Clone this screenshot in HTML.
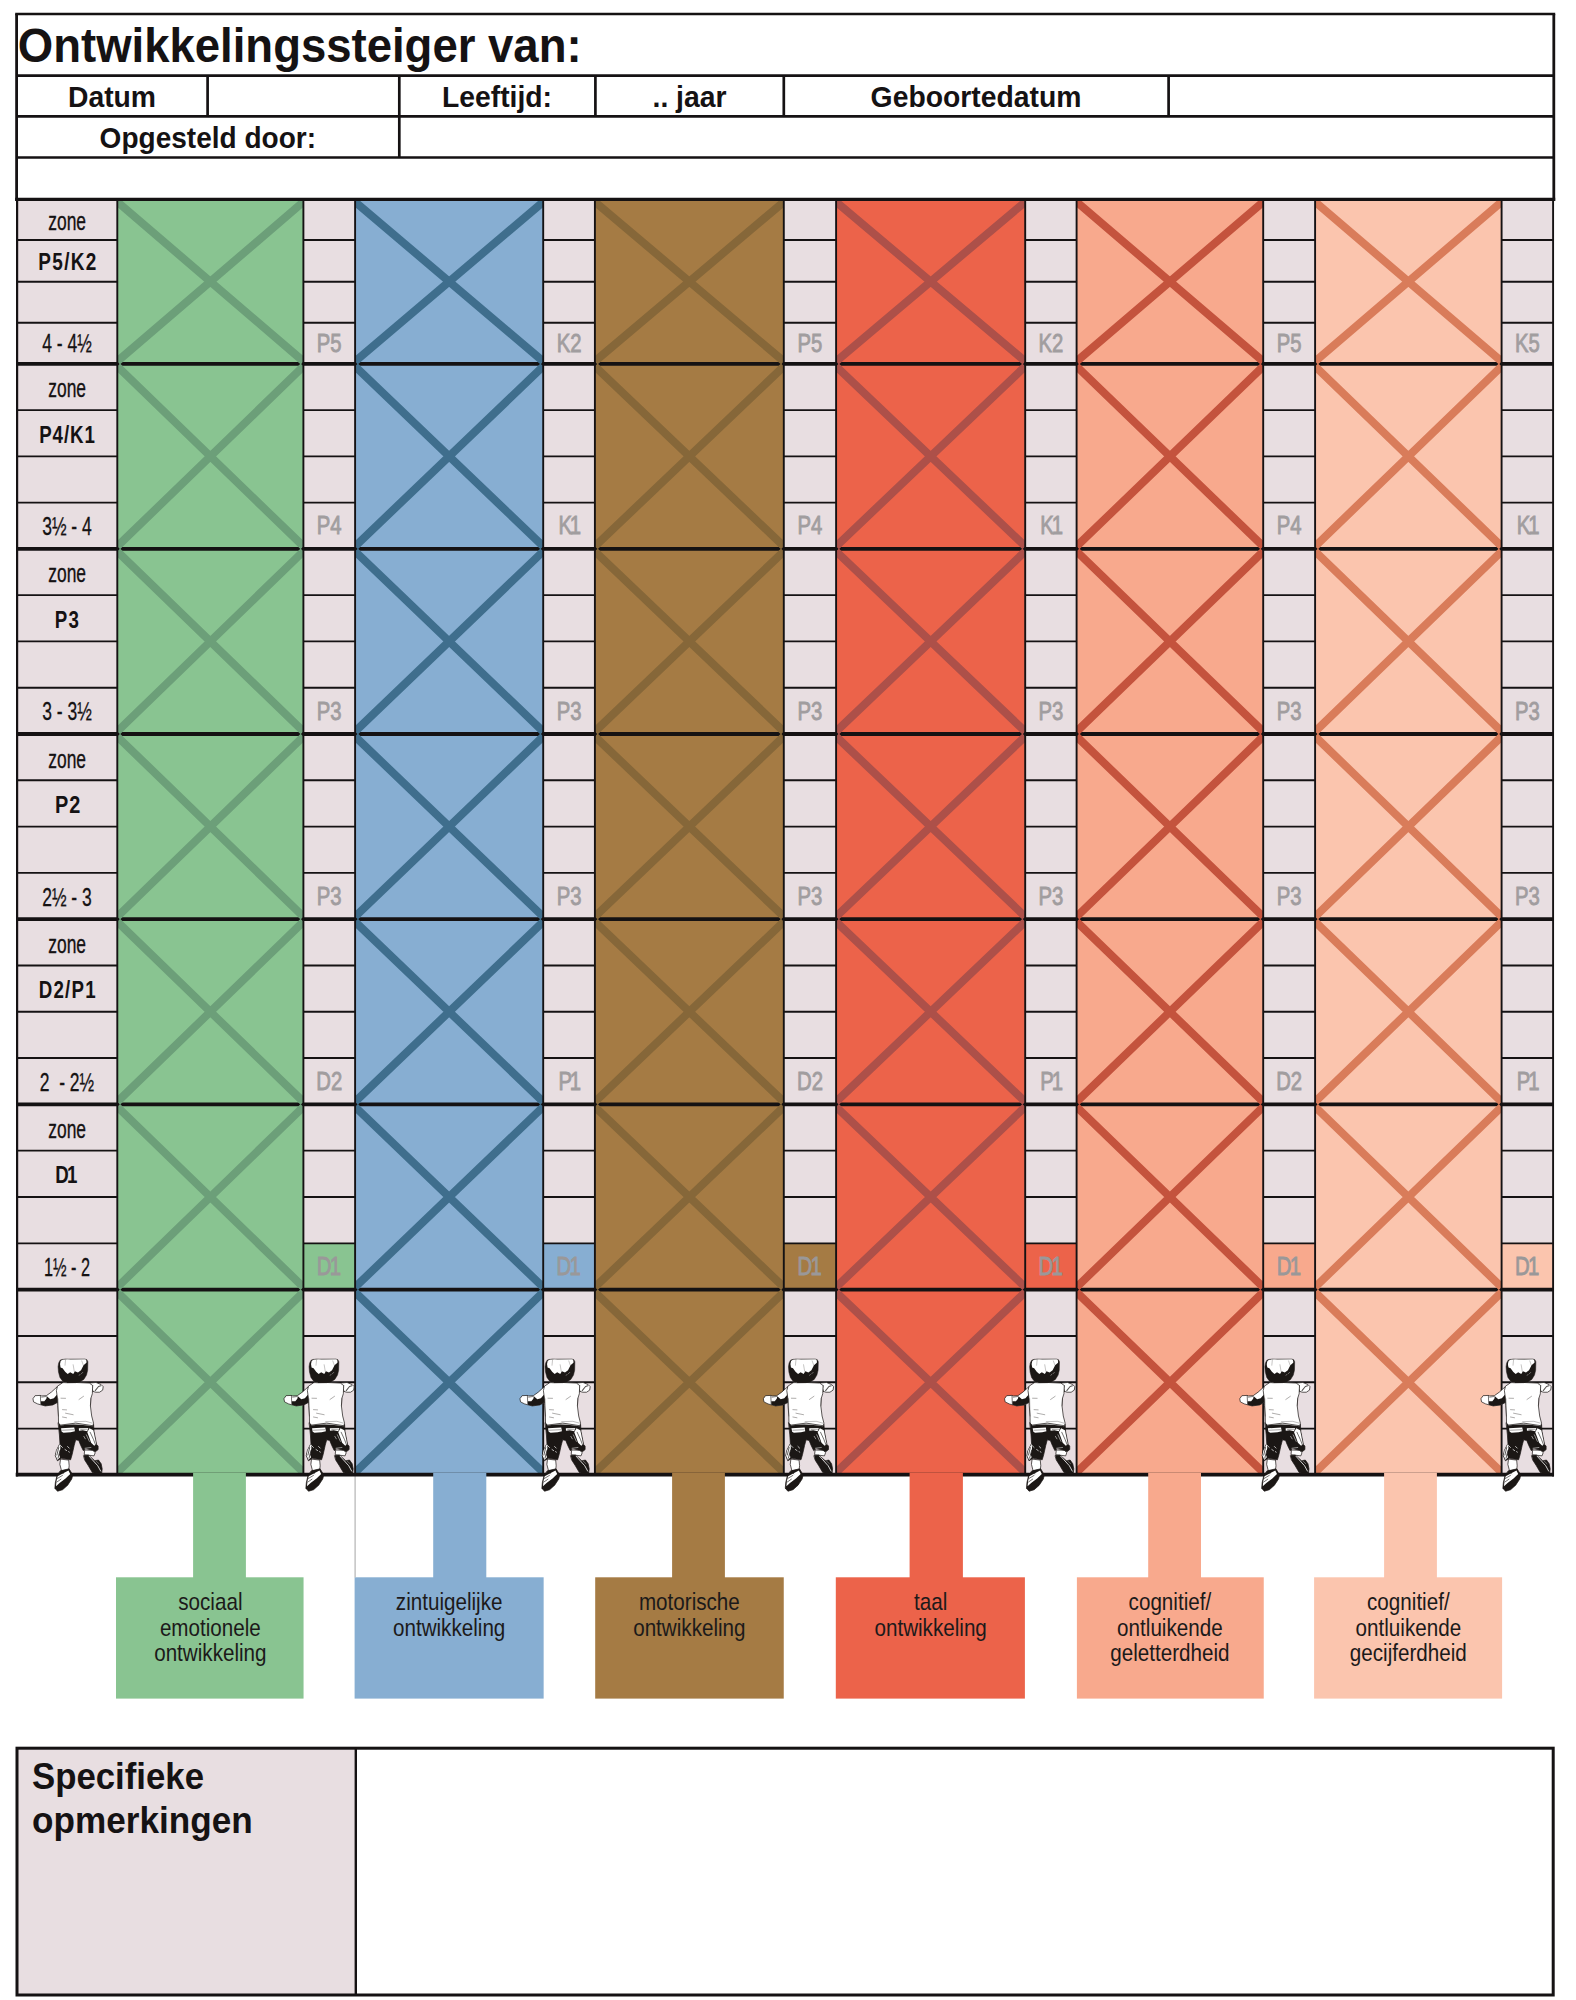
<!DOCTYPE html>
<html lang="nl">
<head>
<meta charset="utf-8">
<title>Ontwikkelingssteiger</title>
<style>
html,body{margin:0;padding:0;background:#fff;}
body{width:1576px;height:2000px;overflow:hidden;}
svg{display:block;font-family:"Liberation Sans",sans-serif;}
text{white-space:pre;}
</style>
</head>
<body>
<svg width="1576" height="2000" viewBox="0 0 1576 2000">
<defs>
<symbol id="kid" overflow="visible">
<g stroke-linejoin="round" stroke-linecap="round">
<!-- ===== lower half (coords from 19.7x zoom of region x30 y1415) ===== -->
<g transform="translate(10 75) scale(0.05076)">
<!-- right sock -->
<path d="M1085 690 L1235 695 L1285 740 L1262 805 L1150 792 L1075 782 Z" fill="#fff" stroke="#1b1715" stroke-width="14"/>
<!-- right shoe -->
<path d="M1060 800 L1150 790 L1275 900 L1350 888 L1402 960 L1422 1060 L1412 1152 L1300 1152 L1228 1132 L1150 1000 L1080 890 Z" fill="#1b1715" stroke="#1b1715" stroke-width="14"/>
<path d="M1165 812 L1335 1000 L1392 1105" stroke="#fff" stroke-width="16" fill="none"/>
<path d="M1300 905 L1360 960" stroke="#fff" stroke-width="10" fill="none" opacity=".7"/>
<!-- left calf -->
<path d="M608 870 L762 888 L772 1000 L762 1085 L620 1095 L590 980 Z" fill="#fff" stroke="#1b1715" stroke-width="14"/>
<!-- left shoe -->
<path d="M600 1100 L770 1060 L842 1180 L822 1262 L742 1382 L642 1472 L542 1502 L490 1442 L500 1330 L530 1200 Z" fill="#1b1715" stroke="#1b1715" stroke-width="14"/>
<path d="M545 1205 L758 1092 L792 1160 L700 1252 L582 1342 L512 1402 L522 1300 Z" fill="#fff"/>
<path d="M540 1250 L640 1190 M530 1320 L610 1265 M620 1120 L660 1160" stroke="#1b1715" stroke-width="12" fill="none"/>
<!-- shorts base (dark) -->
<path d="M560 150 L900 128 L1252 180 L1262 330 L1312 580 L1342 612 L1342 682 L1290 722 L1230 692 L1100 662 L1050 702 L1000 600 L960 500 L900 490 L870 600 L830 780 L800 882 L620 852 L540 902 L498 800 L520 700 L590 560 L580 400 Z" fill="#1b1715" stroke="#1b1715" stroke-width="14"/>
<!-- light patches -->
<path d="M612 262 L872 246 L884 318 L800 338 L660 352 L625 330 Z" fill="#fff"/>
<path d="M962 262 L1150 256 L1128 318 L1040 300 L965 312 Z" fill="#fff"/>
<path d="M1172 262 L1248 300 L1304 578 L1266 606 L1204 545 L1162 430 L1128 342 Z" fill="#fff"/>
<path d="M592 565 L524 700 L504 800 L542 888 L592 830 L574 782 L600 650 Z" fill="#fff"/>
<path d="M600 175 Q900 120 1235 200 L1235 222 Q900 158 600 205 Z" fill="#fff" opacity=".85"/>
<!-- detail lines -->
<path d="M640 300 L860 290 M1000 285 L1130 280" stroke="#1b1715" stroke-width="10" fill="none" opacity=".8"/>
<path d="M895 225 L905 400 M935 285 L925 380" stroke="#1b1715" stroke-width="16" fill="none"/>
<path d="M1185 340 L1250 480 L1290 585" stroke="#1b1715" stroke-width="12" fill="none"/>
<path d="M566 640 L530 790 M590 700 L552 850" stroke="#1b1715" stroke-width="14" fill="none"/>
<path d="M740 620 L772 652 M690 680 L722 702 M760 722 L776 732 M600 600 L640 640" stroke="#fff" stroke-width="14" fill="none"/>
<path d="M1110 390 L1170 520 M1085 655 L1200 640 M1060 420 L1090 470" stroke="#fff" stroke-width="12" fill="none" opacity=".85"/>
</g>
<!-- ===== upper half (coords from 19.7x zoom of region x30 y1350) ===== -->
<g transform="translate(10 10) scale(0.05076)">
<!-- left arm -->
<path d="M532 728 L420 830 L322 900 L232 905 L200 895 L100 900 L58 960 L70 1022 L150 1062 L202 1077 L300 1102 L450 1082 L545 1032 Z" fill="#fff" stroke="#1b1715" stroke-width="14"/>
<path d="M332 912 L400 972 L470 950 L542 868 L547 1030 L450 1082 L300 1102 L216 1077 L214 1012 L282 1012 L322 962 Z" fill="#1b1715"/>
<path d="M205 900 L212 1070" stroke="#1b1715" stroke-width="12" fill="none"/>
<path d="M230 930 L320 915" stroke="#1b1715" stroke-width="10" fill="none"/>
<!-- right arm -->
<path d="M1170 652 L1300 640 L1400 680 L1442 722 L1432 790 L1370 832 L1290 832 L1232 812 Z" fill="#fff" stroke="#1b1715" stroke-width="14"/>
<path d="M1232 700 Q1215 760 1238 815" stroke="#1b1715" stroke-width="16" fill="none"/>
<path d="M1285 800 L1350 720 L1395 705" stroke="#1b1715" stroke-width="20" fill="none" opacity=".75"/>
<!-- shirt -->
<path d="M650 645 L900 640 L1170 652 L1235 700 L1228 862 L1200 950 L1190 1100 L1215 1300 L1252 1442 L1240 1492 L900 1440 L600 1480 L562 1440 L560 1300 L545 1100 L540 950 L520 800 L540 720 Z" fill="#fff" stroke="#1b1715" stroke-width="14"/>
<path d="M965 975 L1055 912 M610 950 L700 952 M640 1175 L720 1180 M700 1245 L850 1275 M640 1320 L720 1335 M1200 950 L1192 1100 M552 960 L560 1300" stroke="#1b1715" stroke-width="10" fill="none" opacity=".7"/>
<path d="M880 1412 L1100 1405 L1225 1440" stroke="#1b1715" stroke-width="9" fill="none" opacity=".6"/>
<!-- head -->
<path d="M640 186 Q700 172 760 180 L1080 178 Q1130 176 1140 232 L1136 400 Q1128 500 1060 580 Q990 640 900 644 L700 644 Q630 620 590 540 Q552 440 553 330 Q556 250 590 205 Q610 188 640 186 Z" fill="#1b1715" stroke="#1b1715" stroke-width="10"/>
<path d="M636 192 Q720 178 800 188 L1082 184 Q1120 190 1112 250 L1055 302 L1005 400 L945 442 L885 420 L852 472 L792 440 L742 472 L692 430 L642 360 L602 345 Q578 280 604 216 Z" fill="#fff"/>
<path d="M700 200 L690 300 M850 290 L872 420 M1020 215 L1050 300" stroke="#1b1715" stroke-width="9" fill="none" opacity=".55"/>
<path d="M660 655 L715 652" stroke="#fff" stroke-width="14" fill="none" opacity=".8"/>
<path d="M1010 470 L1040 440 M970 500 L985 480" stroke="#fff" stroke-width="10" fill="none" opacity=".7"/>
</g>
</g>
</symbol>

</defs>
<rect x="16.6" y="199.35" width="100.7" height="1275.55" fill="#e8dee1"/>
<rect x="303.4" y="199.35" width="51.7" height="1275.55" fill="#e8dee1"/>
<rect x="543.2" y="199.35" width="51.7" height="1275.55" fill="#e8dee1"/>
<rect x="783.8" y="199.35" width="52.3" height="1275.55" fill="#e8dee1"/>
<rect x="1025.2" y="199.35" width="51.4" height="1275.55" fill="#e8dee1"/>
<rect x="1263.2" y="199.35" width="51.9" height="1275.55" fill="#e8dee1"/>
<rect x="1501.6" y="199.35" width="51.6" height="1275.55" fill="#e8dee1"/>
<rect x="303.4" y="1243.35" width="51.7" height="46.35" fill="#89c491"/>
<rect x="543.2" y="1243.35" width="51.7" height="46.35" fill="#87aed2"/>
<rect x="783.8" y="1243.35" width="52.3" height="46.35" fill="#a57b44"/>
<rect x="1025.2" y="1243.35" width="51.4" height="46.35" fill="#ec634a"/>
<rect x="1263.2" y="1243.35" width="51.9" height="46.35" fill="#f8a98d"/>
<rect x="1501.6" y="1243.35" width="51.6" height="46.35" fill="#fbc5ae"/>
<rect x="117.3" y="199.35" width="186.1" height="1275.55" fill="#89c491"/>
<rect x="355.1" y="199.35" width="188.1" height="1275.55" fill="#87aed2"/>
<rect x="594.9" y="199.35" width="188.9" height="1275.55" fill="#a57b44"/>
<rect x="836.1" y="199.35" width="189.1" height="1275.55" fill="#ec634a"/>
<rect x="1076.6" y="199.35" width="186.6" height="1275.55" fill="#f8a98d"/>
<rect x="1315.1" y="199.35" width="186.5" height="1275.55" fill="#fbc5ae"/>
<rect x="116" y="1577.3" width="187.55" height="121.3" fill="#89c491"/>
<rect x="354.6" y="1577.3" width="189.05" height="121.3" fill="#87aed2"/>
<rect x="595.2" y="1577.3" width="188.55" height="121.3" fill="#a57b44"/>
<rect x="835.8" y="1577.3" width="189.1" height="121.3" fill="#ec634a"/>
<rect x="1076.9" y="1577.3" width="186.85" height="121.3" fill="#f8a98d"/>
<rect x="1314.1" y="1577.3" width="188" height="121.3" fill="#fbc5ae"/>
<line x1="355.1" y1="1476" x2="355.1" y2="1577.5" stroke="#b4b4b4" stroke-width="1.2"/>
<line x1="16.6" y1="363.85" x2="1553.4" y2="363.85" stroke="#151213" stroke-width="3.8"/>
<line x1="16.6" y1="548.85" x2="1553.4" y2="548.85" stroke="#151213" stroke-width="3.8"/>
<line x1="16.6" y1="734" x2="1553.4" y2="734" stroke="#151213" stroke-width="3.8"/>
<line x1="16.6" y1="919.2" x2="1553.4" y2="919.2" stroke="#151213" stroke-width="3.8"/>
<line x1="16.6" y1="1104.3" x2="1553.4" y2="1104.3" stroke="#151213" stroke-width="3.8"/>
<line x1="16.6" y1="1289.7" x2="1553.4" y2="1289.7" stroke="#151213" stroke-width="3.8"/>
<g stroke="#6c9f79" stroke-width="8" stroke-linecap="butt">
<clipPath id="c117"><rect x="117.3" y="199.35" width="186.1" height="1275.55"/></clipPath>
<g clip-path="url(#c117)">
<path fill="none" d="M117.3 201.85L303.4 361.35M303.4 201.85L117.3 361.35"/>
<path fill="none" d="M117.3 366.35L303.4 546.35M303.4 366.35L117.3 546.35"/>
<path fill="none" d="M117.3 551.35L303.4 731.5M303.4 551.35L117.3 731.5"/>
<path fill="none" d="M117.3 736.5L303.4 916.7M303.4 736.5L117.3 916.7"/>
<path fill="none" d="M117.3 921.7L303.4 1101.8M303.4 921.7L117.3 1101.8"/>
<path fill="none" d="M117.3 1106.8L303.4 1287.2M303.4 1106.8L117.3 1287.2"/>
<path fill="none" d="M117.3 1292.2L303.4 1472.4M303.4 1292.2L117.3 1472.4"/>
</g></g>
<g stroke="#3f6e8d" stroke-width="8" stroke-linecap="butt">
<clipPath id="c355"><rect x="355.1" y="199.35" width="188.1" height="1275.55"/></clipPath>
<g clip-path="url(#c355)">
<path fill="none" d="M355.1 201.85L543.2 361.35M543.2 201.85L355.1 361.35"/>
<path fill="none" d="M355.1 366.35L543.2 546.35M543.2 366.35L355.1 546.35"/>
<path fill="none" d="M355.1 551.35L543.2 731.5M543.2 551.35L355.1 731.5"/>
<path fill="none" d="M355.1 736.5L543.2 916.7M543.2 736.5L355.1 916.7"/>
<path fill="none" d="M355.1 921.7L543.2 1101.8M543.2 921.7L355.1 1101.8"/>
<path fill="none" d="M355.1 1106.8L543.2 1287.2M543.2 1106.8L355.1 1287.2"/>
<path fill="none" d="M355.1 1292.2L543.2 1472.4M543.2 1292.2L355.1 1472.4"/>
</g></g>
<g stroke="#866739" stroke-width="8" stroke-linecap="butt">
<clipPath id="c594"><rect x="594.9" y="199.35" width="188.9" height="1275.55"/></clipPath>
<g clip-path="url(#c594)">
<path fill="none" d="M594.9 201.85L783.8 361.35M783.8 201.85L594.9 361.35"/>
<path fill="none" d="M594.9 366.35L783.8 546.35M783.8 366.35L594.9 546.35"/>
<path fill="none" d="M594.9 551.35L783.8 731.5M783.8 551.35L594.9 731.5"/>
<path fill="none" d="M594.9 736.5L783.8 916.7M783.8 736.5L594.9 916.7"/>
<path fill="none" d="M594.9 921.7L783.8 1101.8M783.8 921.7L594.9 1101.8"/>
<path fill="none" d="M594.9 1106.8L783.8 1287.2M783.8 1106.8L594.9 1287.2"/>
<path fill="none" d="M594.9 1292.2L783.8 1472.4M783.8 1292.2L594.9 1472.4"/>
</g></g>
<g stroke="#ad5049" stroke-width="8" stroke-linecap="butt">
<clipPath id="c836"><rect x="836.1" y="199.35" width="189.1" height="1275.55"/></clipPath>
<g clip-path="url(#c836)">
<path fill="none" d="M836.1 201.85L1025.2 361.35M1025.2 201.85L836.1 361.35"/>
<path fill="none" d="M836.1 366.35L1025.2 546.35M1025.2 366.35L836.1 546.35"/>
<path fill="none" d="M836.1 551.35L1025.2 731.5M1025.2 551.35L836.1 731.5"/>
<path fill="none" d="M836.1 736.5L1025.2 916.7M1025.2 736.5L836.1 916.7"/>
<path fill="none" d="M836.1 921.7L1025.2 1101.8M1025.2 921.7L836.1 1101.8"/>
<path fill="none" d="M836.1 1106.8L1025.2 1287.2M1025.2 1106.8L836.1 1287.2"/>
<path fill="none" d="M836.1 1292.2L1025.2 1472.4M1025.2 1292.2L836.1 1472.4"/>
</g></g>
<g stroke="#c4533d" stroke-width="8" stroke-linecap="butt">
<clipPath id="c1076"><rect x="1076.6" y="199.35" width="186.6" height="1275.55"/></clipPath>
<g clip-path="url(#c1076)">
<path fill="none" d="M1076.6 201.85L1263.2 361.35M1263.2 201.85L1076.6 361.35"/>
<path fill="none" d="M1076.6 366.35L1263.2 546.35M1263.2 366.35L1076.6 546.35"/>
<path fill="none" d="M1076.6 551.35L1263.2 731.5M1263.2 551.35L1076.6 731.5"/>
<path fill="none" d="M1076.6 736.5L1263.2 916.7M1263.2 736.5L1076.6 916.7"/>
<path fill="none" d="M1076.6 921.7L1263.2 1101.8M1263.2 921.7L1076.6 1101.8"/>
<path fill="none" d="M1076.6 1106.8L1263.2 1287.2M1263.2 1106.8L1076.6 1287.2"/>
<path fill="none" d="M1076.6 1292.2L1263.2 1472.4M1263.2 1292.2L1076.6 1472.4"/>
</g></g>
<g stroke="#d97c5a" stroke-width="8" stroke-linecap="butt">
<clipPath id="c1315"><rect x="1315.1" y="199.35" width="186.5" height="1275.55"/></clipPath>
<g clip-path="url(#c1315)">
<path fill="none" d="M1315.1 201.85L1501.6 361.35M1501.6 201.85L1315.1 361.35"/>
<path fill="none" d="M1315.1 366.35L1501.6 546.35M1501.6 366.35L1315.1 546.35"/>
<path fill="none" d="M1315.1 551.35L1501.6 731.5M1501.6 551.35L1315.1 731.5"/>
<path fill="none" d="M1315.1 736.5L1501.6 916.7M1501.6 736.5L1315.1 916.7"/>
<path fill="none" d="M1315.1 921.7L1501.6 1101.8M1501.6 921.7L1315.1 1101.8"/>
<path fill="none" d="M1315.1 1106.8L1501.6 1287.2M1501.6 1106.8L1315.1 1287.2"/>
<path fill="none" d="M1315.1 1292.2L1501.6 1472.4M1501.6 1292.2L1315.1 1472.4"/>
</g></g>
<line x1="16.6" y1="240" x2="117.3" y2="240" stroke="#151213" stroke-width="1.9"/>
<line x1="303.4" y1="240" x2="355.1" y2="240" stroke="#151213" stroke-width="1.9"/>
<line x1="543.2" y1="240" x2="594.9" y2="240" stroke="#151213" stroke-width="1.9"/>
<line x1="783.8" y1="240" x2="836.1" y2="240" stroke="#151213" stroke-width="1.9"/>
<line x1="1025.2" y1="240" x2="1076.6" y2="240" stroke="#151213" stroke-width="1.9"/>
<line x1="1263.2" y1="240" x2="1315.1" y2="240" stroke="#151213" stroke-width="1.9"/>
<line x1="1501.6" y1="240" x2="1553.2" y2="240" stroke="#151213" stroke-width="1.9"/>
<line x1="16.6" y1="281.7" x2="117.3" y2="281.7" stroke="#151213" stroke-width="1.9"/>
<line x1="303.4" y1="281.7" x2="355.1" y2="281.7" stroke="#151213" stroke-width="1.9"/>
<line x1="543.2" y1="281.7" x2="594.9" y2="281.7" stroke="#151213" stroke-width="1.9"/>
<line x1="783.8" y1="281.7" x2="836.1" y2="281.7" stroke="#151213" stroke-width="1.9"/>
<line x1="1025.2" y1="281.7" x2="1076.6" y2="281.7" stroke="#151213" stroke-width="1.9"/>
<line x1="1263.2" y1="281.7" x2="1315.1" y2="281.7" stroke="#151213" stroke-width="1.9"/>
<line x1="1501.6" y1="281.7" x2="1553.2" y2="281.7" stroke="#151213" stroke-width="1.9"/>
<line x1="16.6" y1="322.8" x2="117.3" y2="322.8" stroke="#151213" stroke-width="1.9"/>
<line x1="303.4" y1="322.8" x2="355.1" y2="322.8" stroke="#151213" stroke-width="1.9"/>
<line x1="543.2" y1="322.8" x2="594.9" y2="322.8" stroke="#151213" stroke-width="1.9"/>
<line x1="783.8" y1="322.8" x2="836.1" y2="322.8" stroke="#151213" stroke-width="1.9"/>
<line x1="1025.2" y1="322.8" x2="1076.6" y2="322.8" stroke="#151213" stroke-width="1.9"/>
<line x1="1263.2" y1="322.8" x2="1315.1" y2="322.8" stroke="#151213" stroke-width="1.9"/>
<line x1="1501.6" y1="322.8" x2="1553.2" y2="322.8" stroke="#151213" stroke-width="1.9"/>
<line x1="16.6" y1="410.1" x2="117.3" y2="410.1" stroke="#151213" stroke-width="1.9"/>
<line x1="303.4" y1="410.1" x2="355.1" y2="410.1" stroke="#151213" stroke-width="1.9"/>
<line x1="543.2" y1="410.1" x2="594.9" y2="410.1" stroke="#151213" stroke-width="1.9"/>
<line x1="783.8" y1="410.1" x2="836.1" y2="410.1" stroke="#151213" stroke-width="1.9"/>
<line x1="1025.2" y1="410.1" x2="1076.6" y2="410.1" stroke="#151213" stroke-width="1.9"/>
<line x1="1263.2" y1="410.1" x2="1315.1" y2="410.1" stroke="#151213" stroke-width="1.9"/>
<line x1="1501.6" y1="410.1" x2="1553.2" y2="410.1" stroke="#151213" stroke-width="1.9"/>
<line x1="16.6" y1="456.35" x2="117.3" y2="456.35" stroke="#151213" stroke-width="1.9"/>
<line x1="303.4" y1="456.35" x2="355.1" y2="456.35" stroke="#151213" stroke-width="1.9"/>
<line x1="543.2" y1="456.35" x2="594.9" y2="456.35" stroke="#151213" stroke-width="1.9"/>
<line x1="783.8" y1="456.35" x2="836.1" y2="456.35" stroke="#151213" stroke-width="1.9"/>
<line x1="1025.2" y1="456.35" x2="1076.6" y2="456.35" stroke="#151213" stroke-width="1.9"/>
<line x1="1263.2" y1="456.35" x2="1315.1" y2="456.35" stroke="#151213" stroke-width="1.9"/>
<line x1="1501.6" y1="456.35" x2="1553.2" y2="456.35" stroke="#151213" stroke-width="1.9"/>
<line x1="16.6" y1="502.6" x2="117.3" y2="502.6" stroke="#151213" stroke-width="1.9"/>
<line x1="303.4" y1="502.6" x2="355.1" y2="502.6" stroke="#151213" stroke-width="1.9"/>
<line x1="543.2" y1="502.6" x2="594.9" y2="502.6" stroke="#151213" stroke-width="1.9"/>
<line x1="783.8" y1="502.6" x2="836.1" y2="502.6" stroke="#151213" stroke-width="1.9"/>
<line x1="1025.2" y1="502.6" x2="1076.6" y2="502.6" stroke="#151213" stroke-width="1.9"/>
<line x1="1263.2" y1="502.6" x2="1315.1" y2="502.6" stroke="#151213" stroke-width="1.9"/>
<line x1="1501.6" y1="502.6" x2="1553.2" y2="502.6" stroke="#151213" stroke-width="1.9"/>
<line x1="16.6" y1="595.14" x2="117.3" y2="595.14" stroke="#151213" stroke-width="1.9"/>
<line x1="303.4" y1="595.14" x2="355.1" y2="595.14" stroke="#151213" stroke-width="1.9"/>
<line x1="543.2" y1="595.14" x2="594.9" y2="595.14" stroke="#151213" stroke-width="1.9"/>
<line x1="783.8" y1="595.14" x2="836.1" y2="595.14" stroke="#151213" stroke-width="1.9"/>
<line x1="1025.2" y1="595.14" x2="1076.6" y2="595.14" stroke="#151213" stroke-width="1.9"/>
<line x1="1263.2" y1="595.14" x2="1315.1" y2="595.14" stroke="#151213" stroke-width="1.9"/>
<line x1="1501.6" y1="595.14" x2="1553.2" y2="595.14" stroke="#151213" stroke-width="1.9"/>
<line x1="16.6" y1="641.42" x2="117.3" y2="641.42" stroke="#151213" stroke-width="1.9"/>
<line x1="303.4" y1="641.42" x2="355.1" y2="641.42" stroke="#151213" stroke-width="1.9"/>
<line x1="543.2" y1="641.42" x2="594.9" y2="641.42" stroke="#151213" stroke-width="1.9"/>
<line x1="783.8" y1="641.42" x2="836.1" y2="641.42" stroke="#151213" stroke-width="1.9"/>
<line x1="1025.2" y1="641.42" x2="1076.6" y2="641.42" stroke="#151213" stroke-width="1.9"/>
<line x1="1263.2" y1="641.42" x2="1315.1" y2="641.42" stroke="#151213" stroke-width="1.9"/>
<line x1="1501.6" y1="641.42" x2="1553.2" y2="641.42" stroke="#151213" stroke-width="1.9"/>
<line x1="16.6" y1="687.71" x2="117.3" y2="687.71" stroke="#151213" stroke-width="1.9"/>
<line x1="303.4" y1="687.71" x2="355.1" y2="687.71" stroke="#151213" stroke-width="1.9"/>
<line x1="543.2" y1="687.71" x2="594.9" y2="687.71" stroke="#151213" stroke-width="1.9"/>
<line x1="783.8" y1="687.71" x2="836.1" y2="687.71" stroke="#151213" stroke-width="1.9"/>
<line x1="1025.2" y1="687.71" x2="1076.6" y2="687.71" stroke="#151213" stroke-width="1.9"/>
<line x1="1263.2" y1="687.71" x2="1315.1" y2="687.71" stroke="#151213" stroke-width="1.9"/>
<line x1="1501.6" y1="687.71" x2="1553.2" y2="687.71" stroke="#151213" stroke-width="1.9"/>
<line x1="16.6" y1="780.3" x2="117.3" y2="780.3" stroke="#151213" stroke-width="1.9"/>
<line x1="303.4" y1="780.3" x2="355.1" y2="780.3" stroke="#151213" stroke-width="1.9"/>
<line x1="543.2" y1="780.3" x2="594.9" y2="780.3" stroke="#151213" stroke-width="1.9"/>
<line x1="783.8" y1="780.3" x2="836.1" y2="780.3" stroke="#151213" stroke-width="1.9"/>
<line x1="1025.2" y1="780.3" x2="1076.6" y2="780.3" stroke="#151213" stroke-width="1.9"/>
<line x1="1263.2" y1="780.3" x2="1315.1" y2="780.3" stroke="#151213" stroke-width="1.9"/>
<line x1="1501.6" y1="780.3" x2="1553.2" y2="780.3" stroke="#151213" stroke-width="1.9"/>
<line x1="16.6" y1="826.6" x2="117.3" y2="826.6" stroke="#151213" stroke-width="1.9"/>
<line x1="303.4" y1="826.6" x2="355.1" y2="826.6" stroke="#151213" stroke-width="1.9"/>
<line x1="543.2" y1="826.6" x2="594.9" y2="826.6" stroke="#151213" stroke-width="1.9"/>
<line x1="783.8" y1="826.6" x2="836.1" y2="826.6" stroke="#151213" stroke-width="1.9"/>
<line x1="1025.2" y1="826.6" x2="1076.6" y2="826.6" stroke="#151213" stroke-width="1.9"/>
<line x1="1263.2" y1="826.6" x2="1315.1" y2="826.6" stroke="#151213" stroke-width="1.9"/>
<line x1="1501.6" y1="826.6" x2="1553.2" y2="826.6" stroke="#151213" stroke-width="1.9"/>
<line x1="16.6" y1="872.9" x2="117.3" y2="872.9" stroke="#151213" stroke-width="1.9"/>
<line x1="303.4" y1="872.9" x2="355.1" y2="872.9" stroke="#151213" stroke-width="1.9"/>
<line x1="543.2" y1="872.9" x2="594.9" y2="872.9" stroke="#151213" stroke-width="1.9"/>
<line x1="783.8" y1="872.9" x2="836.1" y2="872.9" stroke="#151213" stroke-width="1.9"/>
<line x1="1025.2" y1="872.9" x2="1076.6" y2="872.9" stroke="#151213" stroke-width="1.9"/>
<line x1="1263.2" y1="872.9" x2="1315.1" y2="872.9" stroke="#151213" stroke-width="1.9"/>
<line x1="1501.6" y1="872.9" x2="1553.2" y2="872.9" stroke="#151213" stroke-width="1.9"/>
<line x1="16.6" y1="965.48" x2="117.3" y2="965.48" stroke="#151213" stroke-width="1.9"/>
<line x1="303.4" y1="965.48" x2="355.1" y2="965.48" stroke="#151213" stroke-width="1.9"/>
<line x1="543.2" y1="965.48" x2="594.9" y2="965.48" stroke="#151213" stroke-width="1.9"/>
<line x1="783.8" y1="965.48" x2="836.1" y2="965.48" stroke="#151213" stroke-width="1.9"/>
<line x1="1025.2" y1="965.48" x2="1076.6" y2="965.48" stroke="#151213" stroke-width="1.9"/>
<line x1="1263.2" y1="965.48" x2="1315.1" y2="965.48" stroke="#151213" stroke-width="1.9"/>
<line x1="1501.6" y1="965.48" x2="1553.2" y2="965.48" stroke="#151213" stroke-width="1.9"/>
<line x1="16.6" y1="1011.75" x2="117.3" y2="1011.75" stroke="#151213" stroke-width="1.9"/>
<line x1="303.4" y1="1011.75" x2="355.1" y2="1011.75" stroke="#151213" stroke-width="1.9"/>
<line x1="543.2" y1="1011.75" x2="594.9" y2="1011.75" stroke="#151213" stroke-width="1.9"/>
<line x1="783.8" y1="1011.75" x2="836.1" y2="1011.75" stroke="#151213" stroke-width="1.9"/>
<line x1="1025.2" y1="1011.75" x2="1076.6" y2="1011.75" stroke="#151213" stroke-width="1.9"/>
<line x1="1263.2" y1="1011.75" x2="1315.1" y2="1011.75" stroke="#151213" stroke-width="1.9"/>
<line x1="1501.6" y1="1011.75" x2="1553.2" y2="1011.75" stroke="#151213" stroke-width="1.9"/>
<line x1="16.6" y1="1058.03" x2="117.3" y2="1058.03" stroke="#151213" stroke-width="1.9"/>
<line x1="303.4" y1="1058.03" x2="355.1" y2="1058.03" stroke="#151213" stroke-width="1.9"/>
<line x1="543.2" y1="1058.03" x2="594.9" y2="1058.03" stroke="#151213" stroke-width="1.9"/>
<line x1="783.8" y1="1058.03" x2="836.1" y2="1058.03" stroke="#151213" stroke-width="1.9"/>
<line x1="1025.2" y1="1058.03" x2="1076.6" y2="1058.03" stroke="#151213" stroke-width="1.9"/>
<line x1="1263.2" y1="1058.03" x2="1315.1" y2="1058.03" stroke="#151213" stroke-width="1.9"/>
<line x1="1501.6" y1="1058.03" x2="1553.2" y2="1058.03" stroke="#151213" stroke-width="1.9"/>
<line x1="16.6" y1="1150.65" x2="117.3" y2="1150.65" stroke="#151213" stroke-width="1.9"/>
<line x1="303.4" y1="1150.65" x2="355.1" y2="1150.65" stroke="#151213" stroke-width="1.9"/>
<line x1="543.2" y1="1150.65" x2="594.9" y2="1150.65" stroke="#151213" stroke-width="1.9"/>
<line x1="783.8" y1="1150.65" x2="836.1" y2="1150.65" stroke="#151213" stroke-width="1.9"/>
<line x1="1025.2" y1="1150.65" x2="1076.6" y2="1150.65" stroke="#151213" stroke-width="1.9"/>
<line x1="1263.2" y1="1150.65" x2="1315.1" y2="1150.65" stroke="#151213" stroke-width="1.9"/>
<line x1="1501.6" y1="1150.65" x2="1553.2" y2="1150.65" stroke="#151213" stroke-width="1.9"/>
<line x1="16.6" y1="1197" x2="117.3" y2="1197" stroke="#151213" stroke-width="1.9"/>
<line x1="303.4" y1="1197" x2="355.1" y2="1197" stroke="#151213" stroke-width="1.9"/>
<line x1="543.2" y1="1197" x2="594.9" y2="1197" stroke="#151213" stroke-width="1.9"/>
<line x1="783.8" y1="1197" x2="836.1" y2="1197" stroke="#151213" stroke-width="1.9"/>
<line x1="1025.2" y1="1197" x2="1076.6" y2="1197" stroke="#151213" stroke-width="1.9"/>
<line x1="1263.2" y1="1197" x2="1315.1" y2="1197" stroke="#151213" stroke-width="1.9"/>
<line x1="1501.6" y1="1197" x2="1553.2" y2="1197" stroke="#151213" stroke-width="1.9"/>
<line x1="16.6" y1="1243.35" x2="117.3" y2="1243.35" stroke="#151213" stroke-width="1.9"/>
<line x1="303.4" y1="1243.35" x2="355.1" y2="1243.35" stroke="#151213" stroke-width="1.9"/>
<line x1="543.2" y1="1243.35" x2="594.9" y2="1243.35" stroke="#151213" stroke-width="1.9"/>
<line x1="783.8" y1="1243.35" x2="836.1" y2="1243.35" stroke="#151213" stroke-width="1.9"/>
<line x1="1025.2" y1="1243.35" x2="1076.6" y2="1243.35" stroke="#151213" stroke-width="1.9"/>
<line x1="1263.2" y1="1243.35" x2="1315.1" y2="1243.35" stroke="#151213" stroke-width="1.9"/>
<line x1="1501.6" y1="1243.35" x2="1553.2" y2="1243.35" stroke="#151213" stroke-width="1.9"/>
<line x1="16.6" y1="1336" x2="117.3" y2="1336" stroke="#151213" stroke-width="1.9"/>
<line x1="303.4" y1="1336" x2="355.1" y2="1336" stroke="#151213" stroke-width="1.9"/>
<line x1="543.2" y1="1336" x2="594.9" y2="1336" stroke="#151213" stroke-width="1.9"/>
<line x1="783.8" y1="1336" x2="836.1" y2="1336" stroke="#151213" stroke-width="1.9"/>
<line x1="1025.2" y1="1336" x2="1076.6" y2="1336" stroke="#151213" stroke-width="1.9"/>
<line x1="1263.2" y1="1336" x2="1315.1" y2="1336" stroke="#151213" stroke-width="1.9"/>
<line x1="1501.6" y1="1336" x2="1553.2" y2="1336" stroke="#151213" stroke-width="1.9"/>
<line x1="16.6" y1="1382.3" x2="117.3" y2="1382.3" stroke="#151213" stroke-width="1.9"/>
<line x1="303.4" y1="1382.3" x2="355.1" y2="1382.3" stroke="#151213" stroke-width="1.9"/>
<line x1="543.2" y1="1382.3" x2="594.9" y2="1382.3" stroke="#151213" stroke-width="1.9"/>
<line x1="783.8" y1="1382.3" x2="836.1" y2="1382.3" stroke="#151213" stroke-width="1.9"/>
<line x1="1025.2" y1="1382.3" x2="1076.6" y2="1382.3" stroke="#151213" stroke-width="1.9"/>
<line x1="1263.2" y1="1382.3" x2="1315.1" y2="1382.3" stroke="#151213" stroke-width="1.9"/>
<line x1="1501.6" y1="1382.3" x2="1553.2" y2="1382.3" stroke="#151213" stroke-width="1.9"/>
<line x1="16.6" y1="1428.6" x2="117.3" y2="1428.6" stroke="#151213" stroke-width="1.9"/>
<line x1="303.4" y1="1428.6" x2="355.1" y2="1428.6" stroke="#151213" stroke-width="1.9"/>
<line x1="543.2" y1="1428.6" x2="594.9" y2="1428.6" stroke="#151213" stroke-width="1.9"/>
<line x1="783.8" y1="1428.6" x2="836.1" y2="1428.6" stroke="#151213" stroke-width="1.9"/>
<line x1="1025.2" y1="1428.6" x2="1076.6" y2="1428.6" stroke="#151213" stroke-width="1.9"/>
<line x1="1263.2" y1="1428.6" x2="1315.1" y2="1428.6" stroke="#151213" stroke-width="1.9"/>
<line x1="1501.6" y1="1428.6" x2="1553.2" y2="1428.6" stroke="#151213" stroke-width="1.9"/>
<line x1="117.3" y1="199.35" x2="117.3" y2="1474.9" stroke="#151213" stroke-width="1.9"/>
<line x1="303.4" y1="199.35" x2="303.4" y2="1474.9" stroke="#151213" stroke-width="1.9"/>
<line x1="355.1" y1="199.35" x2="355.1" y2="1474.9" stroke="#151213" stroke-width="1.9"/>
<line x1="543.2" y1="199.35" x2="543.2" y2="1474.9" stroke="#151213" stroke-width="1.9"/>
<line x1="594.9" y1="199.35" x2="594.9" y2="1474.9" stroke="#151213" stroke-width="1.9"/>
<line x1="783.8" y1="199.35" x2="783.8" y2="1474.9" stroke="#151213" stroke-width="1.9"/>
<line x1="836.1" y1="199.35" x2="836.1" y2="1474.9" stroke="#151213" stroke-width="1.9"/>
<line x1="1025.2" y1="199.35" x2="1025.2" y2="1474.9" stroke="#151213" stroke-width="1.9"/>
<line x1="1076.6" y1="199.35" x2="1076.6" y2="1474.9" stroke="#151213" stroke-width="1.9"/>
<line x1="1263.2" y1="199.35" x2="1263.2" y2="1474.9" stroke="#151213" stroke-width="1.9"/>
<line x1="1315.1" y1="199.35" x2="1315.1" y2="1474.9" stroke="#151213" stroke-width="1.9"/>
<line x1="1501.6" y1="199.35" x2="1501.6" y2="1474.9" stroke="#151213" stroke-width="1.9"/>
<line x1="17.1" y1="199.35" x2="17.1" y2="1476.5" stroke="#151213" stroke-width="2.2"/>
<line x1="1553.1" y1="199.35" x2="1553.1" y2="1476.5" stroke="#151213" stroke-width="1.9"/>
<line x1="15.7" y1="1474.7" x2="1553.8" y2="1474.7" stroke="#151213" stroke-width="3.8"/>
<rect x="193.1" y="1472.8" width="52.8" height="105.2" fill="#89c491"/>
<rect x="433.2" y="1472.8" width="53.1" height="105.2" fill="#87aed2"/>
<rect x="672.1" y="1472.8" width="52.8" height="105.2" fill="#a57b44"/>
<rect x="909.6" y="1472.8" width="53.3" height="105.2" fill="#ec634a"/>
<rect x="1148.2" y="1472.8" width="52.8" height="105.2" fill="#f8a98d"/>
<rect x="1384.1" y="1472.8" width="52.8" height="105.2" fill="#fbc5ae"/>
<line x1="15.2" y1="14" x2="1555.2" y2="14" stroke="#151213" stroke-width="2.6"/>
<line x1="16.6" y1="14" x2="16.6" y2="200.9" stroke="#151213" stroke-width="2.8"/>
<line x1="1553.8" y1="14" x2="1553.8" y2="200.9" stroke="#151213" stroke-width="2.8"/>
<line x1="15.2" y1="199.4" x2="1555.2" y2="199.4" stroke="#151213" stroke-width="3.2"/>
<line x1="16.4" y1="75.65" x2="1553.6" y2="75.65" stroke="#151213" stroke-width="2.7"/>
<line x1="16.4" y1="116.4" x2="1553.6" y2="116.4" stroke="#151213" stroke-width="2.7"/>
<line x1="16.4" y1="157.5" x2="1553.6" y2="157.5" stroke="#151213" stroke-width="2.7"/>
<line x1="207.6" y1="75.65" x2="207.6" y2="116.4" stroke="#151213" stroke-width="2.7"/>
<line x1="399.3" y1="75.65" x2="399.3" y2="116.4" stroke="#151213" stroke-width="2.7"/>
<line x1="595.4" y1="75.65" x2="595.4" y2="116.4" stroke="#151213" stroke-width="2.7"/>
<line x1="783.8" y1="75.65" x2="783.8" y2="116.4" stroke="#151213" stroke-width="2.7"/>
<line x1="1168.6" y1="75.65" x2="1168.6" y2="116.4" stroke="#151213" stroke-width="2.7"/>
<line x1="399.3" y1="116.4" x2="399.3" y2="157.5" stroke="#151213" stroke-width="2.7"/>
<rect x="16.5" y="1748" width="339" height="247" fill="#e8dee1"/>
<rect x="17" y="1748.2" width="1536.2" height="246.8" fill="none" stroke="#151213" stroke-width="3"/>
<line x1="355.8" y1="1748" x2="355.8" y2="1995" stroke="#151213" stroke-width="2.4"/>
<text transform="translate(17.8 62.2) scale(0.94 1)" font-size="48.4" font-weight="bold" fill="#151213" text-anchor="start">Ontwikkelingssteiger van:</text>
<text transform="translate(112 106.8) scale(0.96 1)" font-size="29.5" font-weight="bold" fill="#151213" text-anchor="middle">Datum</text>
<text transform="translate(497 106.8) scale(0.96 1)" font-size="29.5" font-weight="bold" fill="#151213" text-anchor="middle">Leeftijd:</text>
<text transform="translate(689.5 106.8) scale(0.96 1)" font-size="29.5" font-weight="bold" fill="#151213" text-anchor="middle">.. jaar</text>
<text transform="translate(976 106.8) scale(0.96 1)" font-size="29.5" font-weight="bold" fill="#151213" text-anchor="middle">Geboortedatum</text>
<text transform="translate(207.8 147.6) scale(0.95 1)" font-size="29.5" font-weight="bold" fill="#151213" text-anchor="middle">Opgesteld door:</text>
<text transform="translate(32 1788.9) scale(0.94 1)" font-size="37" font-weight="bold" fill="#151213" text-anchor="start">Specifieke</text>
<text transform="translate(32 1832.5) scale(0.95 1)" font-size="37" font-weight="bold" fill="#151213" text-anchor="start">opmerkingen</text>
<text transform="translate(67.15 229.81) scale(0.67 1)" font-size="26" font-weight="normal" fill="#151213" text-anchor="middle" stroke="#151213" stroke-width="0.35">zone</text>
<text transform="translate(68.05 269.89) scale(0.79 1)" font-size="24" font-weight="bold" fill="#151213" text-anchor="middle" letter-spacing="1.7">P5/K2</text>
<text transform="translate(66.95 352.36) scale(0.7 1)" font-size="25" font-weight="normal" fill="#151213" text-anchor="middle" stroke="#151213" stroke-width="0.3">4 - 4½</text>
<text transform="translate(329.25 351.82) scale(0.76 1)" font-size="26.7" font-weight="normal" fill="#a19d9f" text-anchor="middle" stroke="#a19d9f" stroke-width="0.9">P5</text>
<text transform="translate(569.05 351.82) scale(0.76 1)" font-size="26.7" font-weight="normal" fill="#a19d9f" text-anchor="middle" stroke="#a19d9f" stroke-width="0.9">K2</text>
<text transform="translate(809.95 351.82) scale(0.76 1)" font-size="26.7" font-weight="normal" fill="#a19d9f" text-anchor="middle" stroke="#a19d9f" stroke-width="0.9">P5</text>
<text transform="translate(1050.9 351.82) scale(0.76 1)" font-size="26.7" font-weight="normal" fill="#a19d9f" text-anchor="middle" stroke="#a19d9f" stroke-width="0.9">K2</text>
<text transform="translate(1289.15 351.82) scale(0.76 1)" font-size="26.7" font-weight="normal" fill="#a19d9f" text-anchor="middle" stroke="#a19d9f" stroke-width="0.9">P5</text>
<text transform="translate(1527.4 351.82) scale(0.76 1)" font-size="26.7" font-weight="normal" fill="#a19d9f" text-anchor="middle" stroke="#a19d9f" stroke-width="0.9">K5</text>
<text transform="translate(67.15 397.45) scale(0.67 1)" font-size="26" font-weight="normal" fill="#151213" text-anchor="middle" stroke="#151213" stroke-width="0.35">zone</text>
<text transform="translate(67.55 442.51) scale(0.78 1)" font-size="24" font-weight="bold" fill="#151213" text-anchor="middle" letter-spacing="1.2">P4/K1</text>
<text transform="translate(66.95 535.24) scale(0.7 1)" font-size="25" font-weight="normal" fill="#151213" text-anchor="middle" stroke="#151213" stroke-width="0.3">3½ - 4</text>
<text transform="translate(329.25 534.43) scale(0.76 1)" font-size="26.7" font-weight="normal" fill="#a19d9f" text-anchor="middle" stroke="#a19d9f" stroke-width="0.9">P4</text>
<text transform="translate(568.75 534.43) scale(0.76 1)" font-size="26.7" font-weight="normal" fill="#a19d9f" text-anchor="middle" stroke="#a19d9f" stroke-width="0.9" letter-spacing="-2.8">K1</text>
<text transform="translate(809.95 534.43) scale(0.76 1)" font-size="26.7" font-weight="normal" fill="#a19d9f" text-anchor="middle" stroke="#a19d9f" stroke-width="0.9">P4</text>
<text transform="translate(1050.6 534.43) scale(0.76 1)" font-size="26.7" font-weight="normal" fill="#a19d9f" text-anchor="middle" stroke="#a19d9f" stroke-width="0.9" letter-spacing="-2.8">K1</text>
<text transform="translate(1289.15 534.43) scale(0.76 1)" font-size="26.7" font-weight="normal" fill="#a19d9f" text-anchor="middle" stroke="#a19d9f" stroke-width="0.9">P4</text>
<text transform="translate(1527.1 534.43) scale(0.76 1)" font-size="26.7" font-weight="normal" fill="#a19d9f" text-anchor="middle" stroke="#a19d9f" stroke-width="0.9" letter-spacing="-2.8">K1</text>
<text transform="translate(67.15 582.47) scale(0.67 1)" font-size="26" font-weight="normal" fill="#151213" text-anchor="middle" stroke="#151213" stroke-width="0.35">zone</text>
<text transform="translate(67.55 627.57) scale(0.78 1)" font-size="24" font-weight="bold" fill="#151213" text-anchor="middle" letter-spacing="1.8">P3</text>
<text transform="translate(66.95 720.37) scale(0.7 1)" font-size="25" font-weight="normal" fill="#151213" text-anchor="middle" stroke="#151213" stroke-width="0.3">3 - 3½</text>
<text transform="translate(329.25 719.56) scale(0.76 1)" font-size="26.7" font-weight="normal" fill="#a19d9f" text-anchor="middle" stroke="#a19d9f" stroke-width="0.9">P3</text>
<text transform="translate(569.05 719.56) scale(0.76 1)" font-size="26.7" font-weight="normal" fill="#a19d9f" text-anchor="middle" stroke="#a19d9f" stroke-width="0.9">P3</text>
<text transform="translate(809.95 719.56) scale(0.76 1)" font-size="26.7" font-weight="normal" fill="#a19d9f" text-anchor="middle" stroke="#a19d9f" stroke-width="0.9">P3</text>
<text transform="translate(1050.9 719.56) scale(0.76 1)" font-size="26.7" font-weight="normal" fill="#a19d9f" text-anchor="middle" stroke="#a19d9f" stroke-width="0.9">P3</text>
<text transform="translate(1289.15 719.56) scale(0.76 1)" font-size="26.7" font-weight="normal" fill="#a19d9f" text-anchor="middle" stroke="#a19d9f" stroke-width="0.9">P3</text>
<text transform="translate(1527.4 719.56) scale(0.76 1)" font-size="26.7" font-weight="normal" fill="#a19d9f" text-anchor="middle" stroke="#a19d9f" stroke-width="0.9">P3</text>
<text transform="translate(67.15 767.63) scale(0.67 1)" font-size="26" font-weight="normal" fill="#151213" text-anchor="middle" stroke="#151213" stroke-width="0.35">zone</text>
<text transform="translate(68.15 812.74) scale(0.83 1)" font-size="24" font-weight="bold" fill="#151213" text-anchor="middle" letter-spacing="1.2">P2</text>
<text transform="translate(66.95 905.57) scale(0.7 1)" font-size="25" font-weight="normal" fill="#151213" text-anchor="middle" stroke="#151213" stroke-width="0.3">2½ - 3</text>
<text transform="translate(329.25 904.75) scale(0.76 1)" font-size="26.7" font-weight="normal" fill="#a19d9f" text-anchor="middle" stroke="#a19d9f" stroke-width="0.9">P3</text>
<text transform="translate(569.05 904.75) scale(0.76 1)" font-size="26.7" font-weight="normal" fill="#a19d9f" text-anchor="middle" stroke="#a19d9f" stroke-width="0.9">P3</text>
<text transform="translate(809.95 904.75) scale(0.76 1)" font-size="26.7" font-weight="normal" fill="#a19d9f" text-anchor="middle" stroke="#a19d9f" stroke-width="0.9">P3</text>
<text transform="translate(1050.9 904.75) scale(0.76 1)" font-size="26.7" font-weight="normal" fill="#a19d9f" text-anchor="middle" stroke="#a19d9f" stroke-width="0.9">P3</text>
<text transform="translate(1289.15 904.75) scale(0.76 1)" font-size="26.7" font-weight="normal" fill="#a19d9f" text-anchor="middle" stroke="#a19d9f" stroke-width="0.9">P3</text>
<text transform="translate(1527.4 904.75) scale(0.76 1)" font-size="26.7" font-weight="normal" fill="#a19d9f" text-anchor="middle" stroke="#a19d9f" stroke-width="0.9">P3</text>
<text transform="translate(67.15 952.81) scale(0.67 1)" font-size="26" font-weight="normal" fill="#151213" text-anchor="middle" stroke="#151213" stroke-width="0.35">zone</text>
<text transform="translate(67.75 997.9) scale(0.78 1)" font-size="24" font-weight="bold" fill="#151213" text-anchor="middle" letter-spacing="1.6">D2/P1</text>
<text transform="translate(66.95 1090.68) scale(0.7 1)" font-size="25" font-weight="normal" fill="#151213" text-anchor="middle" stroke="#151213" stroke-width="0.3">2  - 2½</text>
<text transform="translate(329.25 1089.86) scale(0.76 1)" font-size="26.7" font-weight="normal" fill="#a19d9f" text-anchor="middle" stroke="#a19d9f" stroke-width="0.9">D2</text>
<text transform="translate(568.75 1089.86) scale(0.76 1)" font-size="26.7" font-weight="normal" fill="#a19d9f" text-anchor="middle" stroke="#a19d9f" stroke-width="0.9" letter-spacing="-2.8">P1</text>
<text transform="translate(809.95 1089.86) scale(0.76 1)" font-size="26.7" font-weight="normal" fill="#a19d9f" text-anchor="middle" stroke="#a19d9f" stroke-width="0.9">D2</text>
<text transform="translate(1050.6 1089.86) scale(0.76 1)" font-size="26.7" font-weight="normal" fill="#a19d9f" text-anchor="middle" stroke="#a19d9f" stroke-width="0.9" letter-spacing="-2.8">P1</text>
<text transform="translate(1289.15 1089.86) scale(0.76 1)" font-size="26.7" font-weight="normal" fill="#a19d9f" text-anchor="middle" stroke="#a19d9f" stroke-width="0.9">D2</text>
<text transform="translate(1527.1 1089.86) scale(0.76 1)" font-size="26.7" font-weight="normal" fill="#a19d9f" text-anchor="middle" stroke="#a19d9f" stroke-width="0.9" letter-spacing="-2.8">P1</text>
<text transform="translate(67.15 1137.96) scale(0.67 1)" font-size="26" font-weight="normal" fill="#151213" text-anchor="middle" stroke="#151213" stroke-width="0.35">zone</text>
<text transform="translate(65.55 1183.11) scale(0.78 1)" font-size="24" font-weight="bold" fill="#151213" text-anchor="middle" letter-spacing="-2">D1</text>
<text transform="translate(66.95 1276.04) scale(0.65 1)" font-size="25" font-weight="normal" fill="#151213" text-anchor="middle" stroke="#151213" stroke-width="0.3">1½ - 2</text>
<text transform="translate(328.05 1275.23) scale(0.76 1)" font-size="26.7" font-weight="normal" fill="#9a9899" text-anchor="middle" stroke="#9a9899" stroke-width="0.9" letter-spacing="-2.2">D1</text>
<text transform="translate(567.85 1275.23) scale(0.76 1)" font-size="26.7" font-weight="normal" fill="#9a9899" text-anchor="middle" stroke="#9a9899" stroke-width="0.9" letter-spacing="-2.2">D1</text>
<text transform="translate(808.75 1275.23) scale(0.76 1)" font-size="26.7" font-weight="normal" fill="#9a9899" text-anchor="middle" stroke="#9a9899" stroke-width="0.9" letter-spacing="-2.2">D1</text>
<text transform="translate(1049.7 1275.23) scale(0.76 1)" font-size="26.7" font-weight="normal" fill="#9a9899" text-anchor="middle" stroke="#9a9899" stroke-width="0.9" letter-spacing="-2.2">D1</text>
<text transform="translate(1287.95 1275.23) scale(0.76 1)" font-size="26.7" font-weight="normal" fill="#9a9899" text-anchor="middle" stroke="#9a9899" stroke-width="0.9" letter-spacing="-2.2">D1</text>
<text transform="translate(1526.2 1275.23) scale(0.76 1)" font-size="26.7" font-weight="normal" fill="#9a9899" text-anchor="middle" stroke="#9a9899" stroke-width="0.9" letter-spacing="-2.2">D1</text>
<text transform="translate(210.35 1610.4) scale(0.86 1)" font-size="24" font-weight="normal" fill="#1c1a1a" text-anchor="middle">sociaal</text>
<text transform="translate(210.35 1635.9) scale(0.86 1)" font-size="24" font-weight="normal" fill="#1c1a1a" text-anchor="middle">emotionele</text>
<text transform="translate(210.35 1661.4) scale(0.86 1)" font-size="24" font-weight="normal" fill="#1c1a1a" text-anchor="middle">ontwikkeling</text>
<text transform="translate(449.15 1610.4) scale(0.86 1)" font-size="24" font-weight="normal" fill="#1c1a1a" text-anchor="middle">zintuigelijke</text>
<text transform="translate(449.15 1635.9) scale(0.86 1)" font-size="24" font-weight="normal" fill="#1c1a1a" text-anchor="middle">ontwikkeling</text>
<text transform="translate(689.35 1610.4) scale(0.86 1)" font-size="24" font-weight="normal" fill="#1c1a1a" text-anchor="middle">motorische</text>
<text transform="translate(689.35 1635.9) scale(0.86 1)" font-size="24" font-weight="normal" fill="#1c1a1a" text-anchor="middle">ontwikkeling</text>
<text transform="translate(930.65 1610.4) scale(0.86 1)" font-size="24" font-weight="normal" fill="#1c1a1a" text-anchor="middle">taal</text>
<text transform="translate(930.65 1635.9) scale(0.86 1)" font-size="24" font-weight="normal" fill="#1c1a1a" text-anchor="middle">ontwikkeling</text>
<text transform="translate(1169.9 1610.4) scale(0.86 1)" font-size="24" font-weight="normal" fill="#1c1a1a" text-anchor="middle">cognitief/</text>
<text transform="translate(1169.9 1635.9) scale(0.86 1)" font-size="24" font-weight="normal" fill="#1c1a1a" text-anchor="middle">ontluikende</text>
<text transform="translate(1169.9 1661.4) scale(0.86 1)" font-size="24" font-weight="normal" fill="#1c1a1a" text-anchor="middle">geletterdheid</text>
<text transform="translate(1408.35 1610.4) scale(0.86 1)" font-size="24" font-weight="normal" fill="#1c1a1a" text-anchor="middle">cognitief/</text>
<text transform="translate(1408.35 1635.9) scale(0.86 1)" font-size="24" font-weight="normal" fill="#1c1a1a" text-anchor="middle">ontluikende</text>
<text transform="translate(1408.35 1661.4) scale(0.86 1)" font-size="24" font-weight="normal" fill="#1c1a1a" text-anchor="middle">gecijferdheid</text>
<use href="#kid" x="20" y="1340"/>
<use href="#kid" x="271" y="1340"/>
<use href="#kid" x="507" y="1340"/>
<use href="#kid" x="750.4" y="1340"/>
<use href="#kid" x="991.6" y="1340"/>
<use href="#kid" x="1226.8" y="1340"/>
<use href="#kid" x="1468" y="1340"/>
</svg>
</body>
</html>
